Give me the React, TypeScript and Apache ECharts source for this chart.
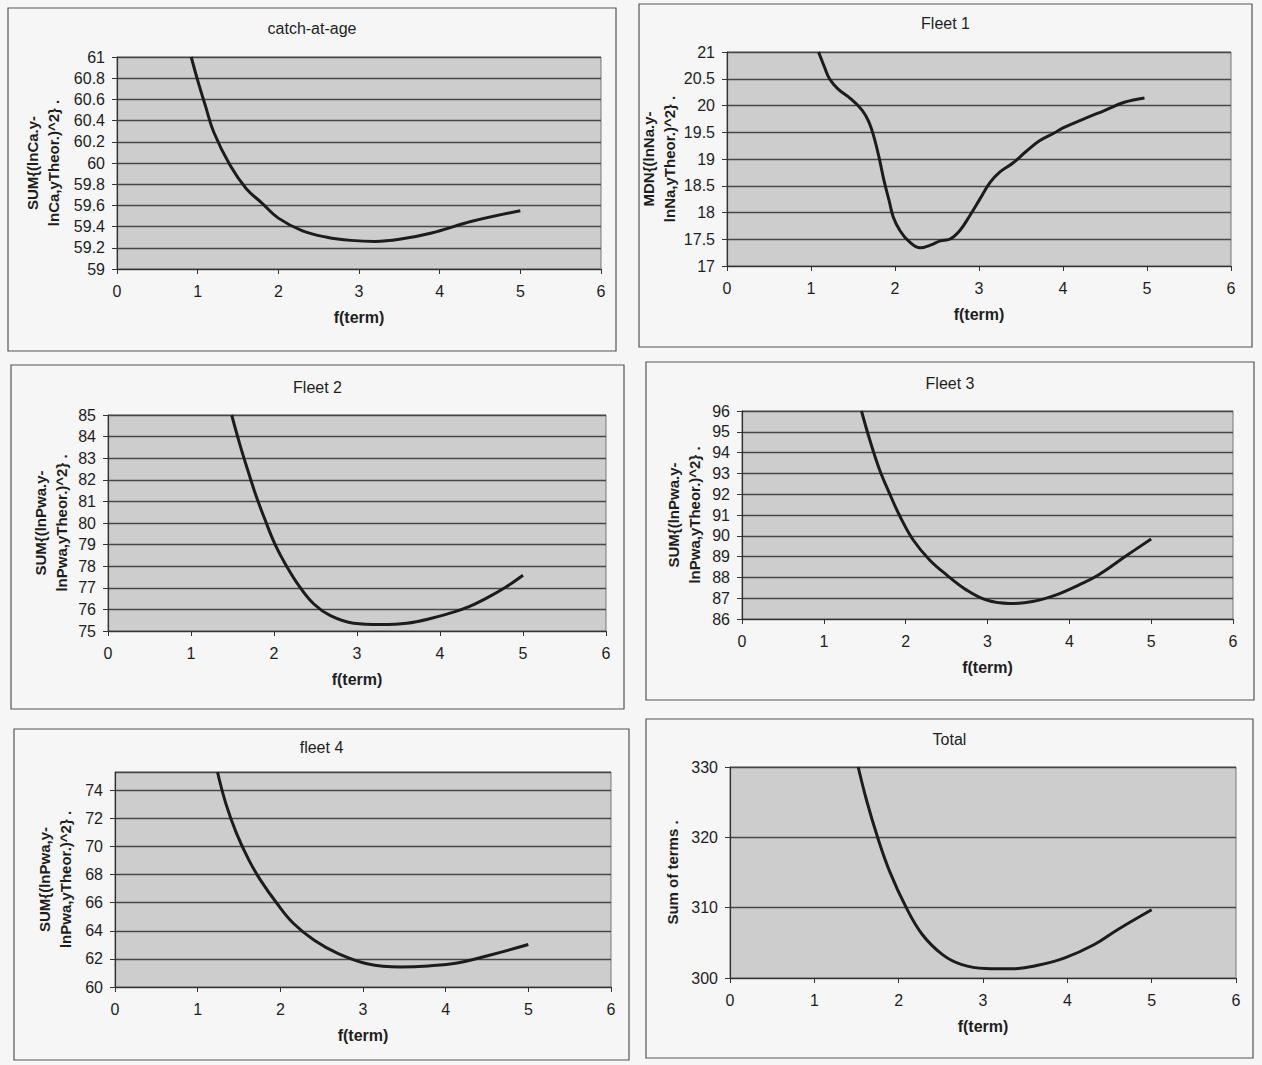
import React, { useEffect, useRef } from "react";
import * as echarts from "echarts";

// ---- data ----
const fTermTicks = [0, 1, 2, 3, 4, 5, 6];

const catchAtAge: number[][] = [
  [0.92, 61.0], [1.0, 60.78], [1.1, 60.53], [1.2, 60.29], [1.4, 59.98], [1.6, 59.76],
  [1.8, 59.62], [2.0, 59.48], [2.3, 59.36], [2.6, 59.3], [2.9, 59.27], [3.2, 59.26],
  [3.5, 59.28], [3.9, 59.34], [4.4, 59.45], [5.0, 59.55],
];

const fleet1: number[][] = [
  [1.09, 21.0], [1.16, 20.72], [1.22, 20.5], [1.32, 20.31], [1.47, 20.13], [1.61, 19.91],
  [1.69, 19.69], [1.75, 19.41], [1.81, 19.03], [1.87, 18.59], [1.93, 18.22], [1.98, 17.91],
  [2.06, 17.66], [2.16, 17.47], [2.3, 17.34], [2.42, 17.39], [2.54, 17.47], [2.65, 17.5],
  [2.77, 17.66], [2.89, 17.94], [3.01, 18.25], [3.13, 18.56], [3.25, 18.76], [3.4, 18.92],
  [3.56, 19.14], [3.72, 19.34], [3.9, 19.49], [4.0, 19.58], [4.25, 19.75], [4.5, 19.91],
  [4.73, 20.06], [4.97, 20.14],
];

const fleet2: number[][] = [
  [1.49, 85.0], [1.59, 83.62], [1.69, 82.37], [1.79, 81.19], [1.89, 80.17], [2.01, 79.03],
  [2.15, 78.01], [2.31, 77.04], [2.48, 76.25], [2.68, 75.71], [2.96, 75.36], [3.28, 75.3],
  [3.6, 75.36], [3.91, 75.6], [4.15, 75.86], [4.35, 76.13], [4.55, 76.5], [4.8, 77.05],
  [5.0, 77.58],
];

const fleet3: number[][] = [
  [1.46, 96.0], [1.56, 94.63], [1.68, 93.19], [1.8, 92.06], [1.93, 90.94], [2.09, 89.81],
  [2.29, 88.85], [2.5, 88.12], [2.74, 87.4], [2.98, 86.92], [3.27, 86.74], [3.55, 86.84],
  [3.84, 87.16], [4.12, 87.64], [4.35, 88.1], [4.7, 89.05], [5.0, 89.85],
];

const fleet4: number[][] = [
  [1.24, 75.3], [1.34, 73.07], [1.47, 70.93], [1.62, 69.03], [1.76, 67.61], [1.96, 65.94],
  [2.16, 64.52], [2.41, 63.33], [2.7, 62.38], [3.05, 61.66], [3.45, 61.43], [3.79, 61.5],
  [4.14, 61.71], [4.53, 62.26], [5.0, 63.02],
];

const total: number[][] = [
  [1.52, 330.0], [1.62, 325.24], [1.75, 320.0], [1.89, 315.24], [2.09, 310.0], [2.28, 306.19],
  [2.52, 303.33], [2.75, 301.9], [3.03, 301.35], [3.34, 301.3], [3.65, 301.8], [3.97, 302.86],
  [4.32, 304.76], [4.6, 306.9], [5.0, 309.7],
];

const titles = ["catch-at-age", "Fleet 1", "Fleet 2", "Fleet 3", "fleet 4", "Total"];
const yNames = [
  "SUM{(lnCa.y-\nlnCa,yTheor.)^2} .",
  "MDN{(lnNa.y-\nlnNa,yTheor.)^2} .",
  "SUM{(lnPwa.y-\nlnPwa,yTheor.)^2} .",
  "SUM{(lnPwa.y-\nlnPwa,yTheor.)^2} .",
  "SUM{(lnPwa,y-\nlnPwa,yTheor.)^2} .",
  "Sum of terms .",
];
const xName = "f(term)";
const yRanges = [
  { min: 59, max: 61, interval: 0.2 },
  { min: 17, max: 21, interval: 0.5 },
  { min: 75, max: 85, interval: 1 },
  { min: 86, max: 96, interval: 1 },
  { min: 60, max: 75.3, interval: 2 },
  { min: 300, max: 330, interval: 10 },
];
const seriesData = [catchAtAge, fleet1, fleet2, fleet3, fleet4, total];

// ---- layout (pixels) ----
const layout = [
  { box: [8, 8, 616, 351], plot: [117, 57, 601, 269], titleY: 28, gap: 53 },
  { box: [639, 4, 1252, 347], plot: [727, 52, 1231, 266], titleY: 23, gap: 45 },
  { box: [11, 365, 624, 709], plot: [108, 415, 606, 631], titleY: 387, gap: 36 },
  { box: [646, 362, 1254, 700], plot: [742, 411, 1233, 619], titleY: 383, gap: 37 },
  { box: [14, 729, 629, 1060], plot: [115, 772, 611, 987], titleY: 747, gap: 39 },
  { box: [646, 719, 1253, 1058], plot: [730, 767, 1236, 978], titleY: 739, gap: 47 },
];

const FONT = "'Liberation Sans', Arial, sans-serif";
const TEXT = "#1e1e1e";

export default function App() {
  const ref = useRef<HTMLDivElement>(null);

  useEffect(() => {
    document.body.style.margin = "0";
    if (!ref.current) return;
    const chart = echarts.init(ref.current, undefined, { renderer: "svg" });

    const grids = layout.map((l) => ({
      left: l.plot[0],
      top: l.plot[1],
      width: l.plot[2] - l.plot[0],
      height: l.plot[3] - l.plot[1],
      show: true,
      backgroundColor: "#cdcdcd",
      borderColor: "#777",
      borderWidth: 1,
    }));

    const xAxes = layout.map((_, i) => ({
      type: "value",
      gridIndex: i,
      min: fTermTicks[0],
      max: fTermTicks[fTermTicks.length - 1],
      interval: fTermTicks[1] - fTermTicks[0],
      name: xName,
      nameLocation: "middle",
      nameGap: 40,
      nameTextStyle: { fontFamily: FONT, fontSize: 16, fontWeight: "bold", color: TEXT },
      axisLine: { show: true, onZero: false, lineStyle: { color: "#333", width: 1.2 } },
      axisTick: { show: true, length: 5, lineStyle: { color: "#333" } },
      axisLabel: { fontFamily: FONT, fontSize: 16, color: TEXT, margin: 14 },
      splitLine: { show: false },
    }));

    const yAxes = layout.map((l, i) => ({
      type: "value",
      gridIndex: i,
      min: yRanges[i].min,
      max: yRanges[i].max,
      interval: yRanges[i].interval,
      name: yNames[i],
      nameLocation: "middle",
      nameRotate: 90,
      nameGap: l.gap,
      nameTextStyle: { fontFamily: FONT, fontSize: 15, fontWeight: "bold", color: TEXT, lineHeight: 21 },
      axisLine: { show: true, onZero: false, lineStyle: { color: "#333", width: 1.2 } },
      axisTick: { show: true, length: 5, lineStyle: { color: "#333" } },
      axisLabel: { fontFamily: FONT, fontSize: 16, color: TEXT, margin: 12, showMaxLabel: i === 4 ? false : true },
      splitLine: { show: true, lineStyle: { color: "#474747", width: 1.3 } },
    }));

    const series = seriesData.map((d, i) => ({
      type: "line",
      xAxisIndex: i,
      yAxisIndex: i,
      data: d,
      showSymbol: false,
      smooth: 0.4,
      clip: true,
      lineStyle: { color: "#1c1c1c", width: 3 },
    }));

    const graphics: any[] = [];
    layout.forEach((l, i) => {
      graphics.push({
        type: "rect",
        shape: { x: l.box[0], y: l.box[1], width: l.box[2] - l.box[0], height: l.box[3] - l.box[1] },
        style: { fill: "none", stroke: "#555", lineWidth: 1.2 },
        silent: true,
      });
      graphics.push({
        type: "text",
        x: (l.box[0] + l.box[2]) / 2,
        y: l.titleY,
        style: {
          text: titles[i],
          align: "center",
          verticalAlign: "middle",
          fontFamily: FONT,
          fontSize: 16,
          fill: TEXT,
        },
        silent: true,
      });
    });

    chart.setOption({
      animation: false,
      backgroundColor: "#f6f6f6",
      grid: grids,
      xAxis: xAxes,
      yAxis: yAxes,
      series,
      graphic: graphics,
    });

    return () => chart.dispose();
  }, []);

  return <div ref={ref} style={{ width: 1262, height: 1065 }} />;
}
